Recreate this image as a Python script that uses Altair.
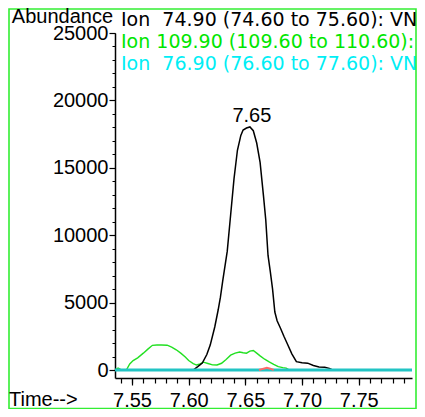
import altair as alt
import pandas as pd

# ---- data ----
black_t = [7.535, 7.600, 7.604, 7.608, 7.612, 7.616, 7.619, 7.623, 7.626, 7.628, 7.630,
           7.634, 7.637, 7.640, 7.643, 7.646, 7.648, 7.651, 7.654, 7.657, 7.660, 7.663,
           7.666, 7.668, 7.670, 7.672, 7.674, 7.676, 7.678, 7.681, 7.684, 7.687, 7.691,
           7.695, 7.700, 7.705, 7.710, 7.715, 7.720, 7.724, 7.727, 7.797]
black_v = [0, 0, 0, 250, 520, 1150, 1850, 3190, 4450, 5400, 6600,
           8800, 11500, 14200, 16300, 17400, 17800, 17950, 18030, 17750, 16840, 15400,
           12900, 11130, 8500, 7300, 6000, 4300, 3650, 3100, 2500, 1950, 1200,
           620, 540, 510, 330, 220, 210, 120, 0, 0]

green_t = [7.535, 7.5377, 7.541, 7.545, 7.548, 7.551, 7.555, 7.560, 7.564, 7.568, 7.572,
           7.576, 7.581, 7.585, 7.589, 7.593, 7.597, 7.600, 7.604, 7.607, 7.610, 7.613,
           7.617, 7.621, 7.625, 7.629, 7.633, 7.637, 7.641, 7.645, 7.648, 7.651, 7.654,
           7.657, 7.660, 7.663, 7.667, 7.671, 7.675, 7.679, 7.683, 7.686, 7.689, 7.797]
green_v = [0, 150, 0, 0, 450, 700, 900, 1250, 1550, 1830, 1850,
           1850, 1840, 1700, 1500, 1250, 970, 700, 480, 370, 450, 580,
           480, 380, 370, 500, 780, 1100, 1250, 1330, 1280, 1250, 1400,
           1450, 1250, 1050, 800, 600, 420, 250, 180, 140, 0, 0]

cyan_t = [7.535, 7.797]
cyan_v = [0, 0]

red_t = [7.662, 7.666, 7.669, 7.672, 7.675]
red_v = [0, 100, 160, 100, 0]

legend_lines = ["Ion\u00a0 74.90 (74.60 to 75.60): VN0",
                "Ion 109.90 (109.60 to 110.60): V",
                "Ion\u00a0 76.90 (76.60 to 77.60): VN0"]
legend_colors = ["#000000", "#00e600", "#00eef5"]

x_major = [7.55, 7.60, 7.65, 7.70, 7.75]
x_minor = [7.54, 7.55, 7.56, 7.57, 7.58, 7.59, 7.60, 7.61, 7.62, 7.63, 7.64, 7.65, 7.66,
           7.67, 7.68, 7.69, 7.70, 7.71, 7.72, 7.73, 7.74, 7.75, 7.76, 7.77, 7.78, 7.79]
y_major = [0, 5000, 10000, 15000, 20000, 25000]
y_minor = [0, 1000, 2000, 3000, 4000, 5000, 6000, 7000, 8000, 9000, 10000, 11000, 12000,
           13000, 14000, 15000, 16000, 17000, 18000, 19000, 20000, 21000, 22000, 23000,
           24000, 25000]

FONT = "Liberation Sans"
xs = alt.Scale(domain=[7.535, 7.797], nice=False, zero=False)
ys = alt.Scale(domain=[-593, 25000], nice=False, zero=False)

def df(t, v):
    return pd.DataFrame({"t": t, "v": v})

x_major_axis = alt.Axis(values=x_major, format=".2f", orient="bottom", title=None, grid=False,
                        tickSize=7, tickColor="black", tickWidth=1.2, domainColor="black",
                        domainWidth=1.5, labelFont=FONT, labelFontSize=20, labelColor="black",
                        labelBaseline="alphabetic", labelPadding=21, labelFlush=False,
                        labelOverlap=False)
y_major_axis = alt.Axis(values=y_major, format="d", orient="left", title=None, grid=False,
                        tickSize=6, tickColor="black", tickWidth=1.2, domainColor="black",
                        domainWidth=1.5, labelFont=FONT, labelFontSize=20, labelColor="black",
                        labelBaseline="middle", labelPadding=1, labelFlush=False,
                        labelOverlap=False)
x_minor_axis = alt.Axis(values=x_minor, orient="bottom", title=None, grid=False, labels=False,
                        domain=False, tickSize=5, tickColor="black", tickWidth=1.2)
y_minor_axis = alt.Axis(values=y_minor, orient="left", title=None, grid=False, labels=False,
                        domain=False, tickSize=3, tickColor="black", tickWidth=1)

green = alt.Chart(df(green_t, green_v)).mark_line(color="#22e022", strokeWidth=1.4).encode(
    x=alt.X("t:Q", scale=xs, axis=x_minor_axis),
    y=alt.Y("v:Q", scale=ys, axis=y_minor_axis))
black = alt.Chart(df(black_t, black_v)).mark_line(color="black", strokeWidth=1.5).encode(
    x=alt.X("t:Q", scale=xs, axis=x_major_axis),
    y=alt.Y("v:Q", scale=ys, axis=y_major_axis))
cyan = alt.Chart(df(cyan_t, cyan_v)).mark_line(color="#22c4c4", strokeWidth=3).encode(
    x=alt.X("t:Q", scale=xs, axis=None),
    y=alt.Y("v:Q", scale=ys, axis=None))
red = alt.Chart(df(red_t, red_v)).mark_line(color="#ff6a6a", strokeWidth=2).encode(
    x=alt.X("t:Q", scale=xs, axis=None),
    y=alt.Y("v:Q", scale=ys, axis=None))

imax = black_v.index(max(black_v))
peak_df = pd.DataFrame({"t": [black_t[imax]], "v": [black_v[imax]],
                        "label": [f"{black_t[imax]:.2f}"]})
peak = alt.Chart(peak_df).mark_text(font=FONT, fontSize=20, baseline="alphabetic", dy=-5,
                                    dx=2, color="black").encode(
    x=alt.X("t:Q", scale=xs, axis=None), y=alt.Y("v:Q", scale=ys, axis=None), text="label:N")

one = pd.DataFrame({"a": [0]})
frame = alt.Chart(one).mark_rect(filled=False, stroke="#33ee33", strokeWidth=1.6).encode(
    x=alt.value(-106), x2=alt.value(301), y=alt.value(-24), y2=alt.value(375.5))

texts = []
texts.append(alt.Chart(pd.DataFrame({"s": ["Abundance"]})).mark_text(
    font=FONT, fontSize=20, align="right", baseline="alphabetic", color="black").encode(
    x=alt.value(-2), y=alt.value(-10), text="s:N"))
texts.append(alt.Chart(pd.DataFrame({"s": ["Time-->"]})).mark_text(
    font=FONT, fontSize=20, align="left", baseline="alphabetic", color="black").encode(
    x=alt.value(-106), y=alt.value(373), text="s:N"))
for i, (s, c) in enumerate(zip(legend_lines, legend_colors)):
    texts.append(alt.Chart(pd.DataFrame({"s": [s]})).mark_text(
        font="DejaVu Sans", fontSize=19, align="left", baseline="alphabetic", color=c).encode(
        x=alt.value(6), y=alt.value(-7 + 22 * i), text="s:N"))

chart = alt.layer(green, black, cyan, red, peak, frame, *texts).resolve_axis(
    x="independent", y="independent").properties(
    width=297, height=345,
    padding={"left": 107, "top": 25, "right": 5, "bottom": 31},
    autosize=alt.AutoSizeParams(type="none"),
).configure_view(stroke=None)

chart.save("out.html", embed_options={"renderer": "svg", "actions": False})
